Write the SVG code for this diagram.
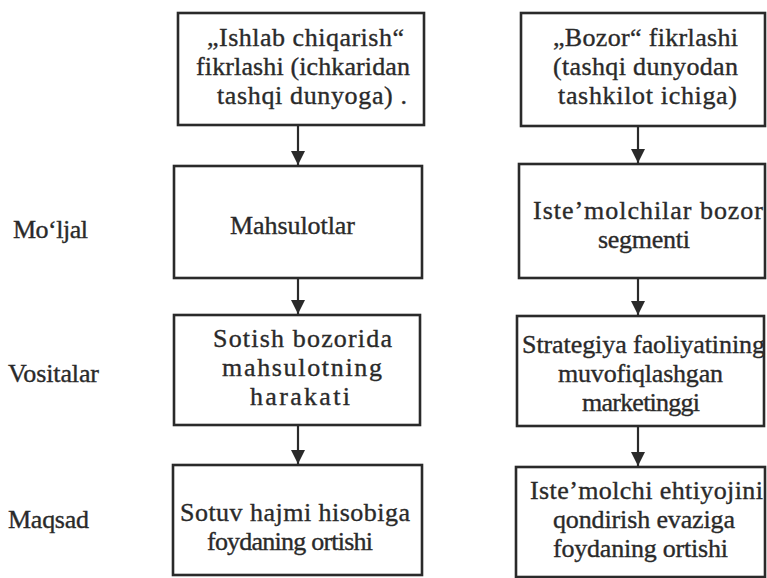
<svg xmlns="http://www.w3.org/2000/svg" width="767" height="578" viewBox="0 0 767 578">
<defs>
<style>
.box{fill:none;stroke:#2a2a2a;stroke-width:2.6}
.conn line{stroke:#2a2a2a;stroke-width:2.2}
</style>
<marker id="ah" viewBox="0 0 10 10" refX="10" refY="5" markerUnits="userSpaceOnUse" markerWidth="18" markerHeight="14" orient="auto">
<path d="M0,0 L10,5 L0,10 Z" fill="#2a2a2a"/>
</marker>
</defs>
<rect width="767" height="578" fill="#ffffff"/>

<g id="connectors" class="conn">
<line x1="298" y1="125" x2="298" y2="165" marker-end="url(#ah)"/>
<line x1="298" y1="278" x2="298" y2="314" marker-end="url(#ah)"/>
<line x1="298" y1="425" x2="298" y2="464" marker-end="url(#ah)"/>
<line x1="638" y1="126" x2="638" y2="163" marker-end="url(#ah)"/>
<line x1="638" y1="278" x2="638" y2="315" marker-end="url(#ah)"/>
<line x1="638" y1="426" x2="638" y2="466" marker-end="url(#ah)"/>
</g>

<g id="diagram" font-family="Liberation Serif, Times New Roman, serif" font-size="26" fill="#2a2a2a" stroke="#2a2a2a" stroke-width="0.35">
<g id="labels">
<text x="13" y="238" textLength="75" lengthAdjust="spacing">Mo‘ljal</text>
<text x="8" y="382" textLength="91" lengthAdjust="spacing">Vositalar</text>
<text x="8" y="528" textLength="81" lengthAdjust="spacing">Maqsad</text>
</g>

<g id="L1">
<rect class="box" x="178" y="13" width="246" height="112"/>
<text x="207" y="46" textLength="197" lengthAdjust="spacing">„Ishlab chiqarish“</text>
<text x="196" y="75" textLength="214" lengthAdjust="spacing">fikrlashi (ichkaridan</text>
<text x="217" y="104" textLength="190" lengthAdjust="spacing">tashqi dunyoga) .</text>
</g>
<g id="L2">
<rect class="box" x="174" y="166" width="248" height="112"/>
<text x="230" y="234" textLength="125" lengthAdjust="spacing">Mahsulotlar</text>
</g>
<g id="L3">
<rect class="box" x="174" y="315" width="246" height="110"/>
<text x="213" y="347" textLength="179" lengthAdjust="spacing">Sotish bozorida</text>
<text x="222" y="376" textLength="160" lengthAdjust="spacing">mahsulotning</text>
<text x="250" y="405" textLength="100" lengthAdjust="spacing">harakati</text>
</g>
<g id="L4">
<rect class="box" x="173" y="465" width="249" height="110"/>
<text x="180" y="521" textLength="230" lengthAdjust="spacing">Sotuv hajmi hisobiga</text>
<text x="207" y="550" textLength="166" lengthAdjust="spacing">foydaning ortishi</text>
</g>

<g id="R1">
<rect class="box" x="521" y="13" width="244" height="113"/>
<text x="553" y="46" textLength="185" lengthAdjust="spacing">„Bozor“ fikrlashi</text>
<text x="553" y="75" textLength="185" lengthAdjust="spacing">(tashqi dunyodan</text>
<text x="558" y="104" textLength="179" lengthAdjust="spacing">tashkilot ichiga)</text>
</g>
<g id="R2">
<rect class="box" x="519" y="164" width="246" height="114"/>
<text x="533" y="219" textLength="230" lengthAdjust="spacing">Iste’molchilar bozor</text>
<text x="598" y="248" textLength="92" lengthAdjust="spacing">segmenti</text>
</g>
<g id="R3">
<rect class="box" x="517" y="316" width="247" height="110"/>
<text x="522" y="353" textLength="243" lengthAdjust="spacing">Strategiya faoliyatining</text>
<text x="558" y="382" textLength="165" lengthAdjust="spacing">muvofiqlashgan</text>
<text x="582" y="411" textLength="118" lengthAdjust="spacing">marketinggi</text>
</g>
<g id="R4">
<rect class="box" x="516" y="467" width="249" height="110"/>
<text x="530" y="499" textLength="233" lengthAdjust="spacing">Iste’molchi ehtiyojini</text>
<text x="553" y="528" textLength="182" lengthAdjust="spacing">qondirish evaziga</text>
<text x="553" y="557" textLength="175" lengthAdjust="spacing">foydaning ortishi</text>
</g>
</g>
</svg>
